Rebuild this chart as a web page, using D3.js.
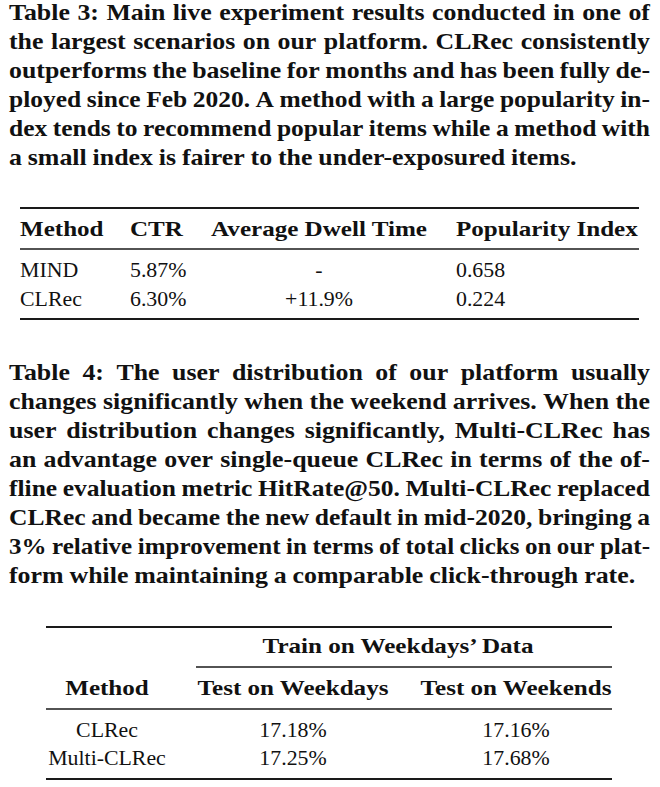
<!DOCTYPE html>
<html>
<head>
<meta charset="utf-8">
<script src="https://cdn.jsdelivr.net/npm/d3@7"></script>
<style>
  html, body { margin: 0; padding: 0; background: #fff; }
  svg { display: block; }
  text { font-family: "Liberation Serif", "Times New Roman", serif; fill: #111; }
</style>
</head>
<body>
<svg></svg>
<script>
// caption text, one entry per printed line
var caption3 = [
  "Table 3: Main live experiment results conducted in one of",
  "the largest scenarios on our platform. CLRec consistently",
  "outperforms the baseline for months and has been fully de-",
  "ployed since Feb 2020. A method with a large popularity in-",
  "dex tends to recommend popular items while a method with",
  "a small index is fairer to the under-exposured items."
];
var caption4 = [
  "Table 4: The user distribution of our platform usually",
  "changes significantly when the weekend arrives. When the",
  "user distribution changes significantly, Multi-CLRec has",
  "an advantage over single-queue CLRec in terms of the of-",
  "fline evaluation metric HitRate@50. Multi-CLRec replaced",
  "CLRec and became the new default in mid-2020, bringing a",
  "3% relative improvement in terms of total clicks on our plat-",
  "form while maintaining a comparable click-through rate."
];

// table 3
var headers3 = ["Method", "CTR", "Average Dwell Time", "Popularity Index"];
var methods3 = ["MIND", "CLRec"];
var ctr = ["5.87%", "6.30%"];
var dwellTime = ["-", "+11.9%"];
var popularity = ["0.658", "0.224"];

// table 4
var groupHeader4 = "Train on Weekdays\u2019 Data";
var headers4 = ["Method", "Test on Weekdays", "Test on Weekends"];
var methods4 = ["CLRec", "Multi-CLRec"];
var weekdays = ["17.18%", "17.25%"];
var weekends = ["17.16%", "17.68%"];

var width = 660, height = 787;
var svg = d3.select("svg").attr("width", width).attr("height", height);

// Liberation Serif is narrower than the Libertine of the original,
// so glyphs get a small horizontal stretch
var boldSize = 22, boldK = 1.14;
var regSize = 21, regK = 1.04;
var capSize = 22.5, capK = 1.15;

var capLeft = 9, capRight = 650, lineGap = 29, minGap = 5.5;

function stretch(x, y, k) {
  return "translate(" + x + "," + y + ") scale(" + k + ",1)";
}

// justified caption, last line ragged
function caption(lines, top) {
  var y = d3.scaleLinear().domain([0, 1]).range([top, top + lineGap]);
  var g = svg.append("g").attr("font-weight", "bold").attr("font-size", capSize);
  lines.forEach(function(line, i) {
    var words = line.split(" ");
    var row = g.append("g");
    var ws = words.map(function(w) { return row.append("text").text(w); });
    var raw = ws.map(function(t) { return t.node().getComputedTextLength(); });
    var avail = capRight - capLeft;
    // tight lines get squeezed a little so spaces never vanish
    var k = Math.min(capK, (avail - minGap * (words.length - 1)) / d3.sum(raw));
    var widths = raw.map(function(w) { return w * k; });
    var last = i === lines.length - 1;
    var gap = last ? capSize * 0.26 : (avail - d3.sum(widths)) / (words.length - 1);
    var x = capLeft;
    ws.forEach(function(t, j) {
      t.attr("transform", stretch(x, y(i), k));
      x += widths[j] + gap;
    });
  });
}

function rule(x1, x2, y, w) {
  svg.append("line")
    .attr("x1", x1).attr("x2", x2)
    .attr("y1", y).attr("y2", y)
    .attr("stroke", "#1a1a1a")
    .attr("stroke-width", w);
}

caption(caption3, 20);
caption(caption4, 380);

// ---- table 3 ----
var t3 = svg.append("g");
var col3 = d3.scaleOrdinal().domain(headers3).range([20, 130, 319, 456]);
var anchor3 = d3.scaleOrdinal().domain(headers3).range(["start", "start", "middle", "start"]);
var row3 = d3.scalePoint().domain(methods3).range([277, 306]);

rule(20, 639, 208, 2);
t3.selectAll("text.h").data(headers3).enter().append("text")
  .attr("class", "h")
  .attr("font-weight", "bold")
  .attr("font-size", boldSize)
  .attr("text-anchor", function(d) { return anchor3(d); })
  .attr("transform", function(d) { return stretch(col3(d), 236, boldK); })
  .text(function(d) { return d; });
rule(20, 639, 249, 1.3);

var cells3 = methods3.map(function(m, i) {
  return [m, ctr[i], dwellTime[i], popularity[i]];
});
cells3.forEach(function(cells, i) {
  t3.selectAll(null).data(cells).enter().append("text")
    .attr("font-size", regSize)
    .attr("text-anchor", function(d, j) { return anchor3(headers3[j]); })
    .attr("transform", function(d, j) { return stretch(col3(headers3[j]), row3(methods3[i]), regK); })
    .text(function(d) { return d; });
});
rule(20, 639, 319, 2);

// ---- table 4 ----
var t4 = svg.append("g").attr("text-anchor", "middle");
var col4 = d3.scaleOrdinal().domain(headers4).range([107, 293, 516]);
var row4 = d3.scalePoint().domain(methods4).range([737, 765]);

rule(46, 612, 627, 2);
t4.append("text")
  .attr("font-weight", "bold")
  .attr("font-size", boldSize)
  .attr("transform", stretch(398, 653, boldK))
  .text(groupHeader4);
rule(196, 612, 667, 1.3);
t4.selectAll("text.h").data(headers4).enter().append("text")
  .attr("class", "h")
  .attr("font-weight", "bold")
  .attr("font-size", boldSize)
  .attr("transform", function(d) { return stretch(col4(d), 695, boldK); })
  .text(function(d) { return d; });
rule(46, 612, 709, 1.3);

methods4.forEach(function(m, i) {
  t4.selectAll(null).data([m, weekdays[i], weekends[i]]).enter().append("text")
    .attr("font-size", regSize)
    .attr("transform", function(d, j) { return stretch(col4(headers4[j]), row4(m), regK); })
    .text(function(d) { return d; });
});
rule(46, 612, 779, 2);
</script>
</body>
</html>
